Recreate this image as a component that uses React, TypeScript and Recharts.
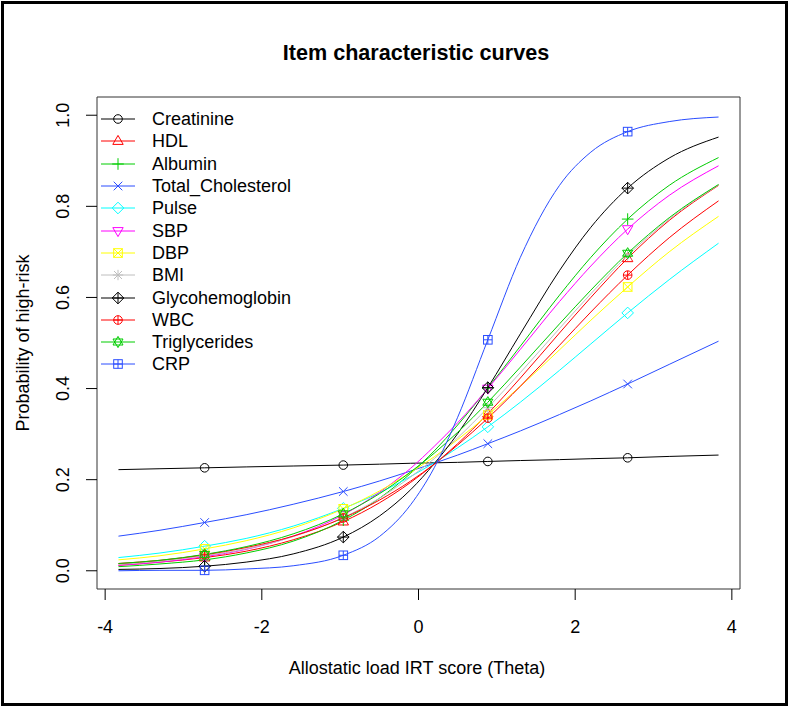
import React from "react";
import { LineChart, Line, XAxis, YAxis, ReferenceArea, Legend } from "recharts";

// theta grid; markers sit at the four marked thetas
const theta = [-3.83, -3.3, -2.73, -2.2, -1.6, -0.96, -0.5, -0.1, 0.2, 0.5, 0.885, 1.3, 1.8, 2.2, 2.67, 3.2, 3.83];
const markTheta = [-2.73, -0.96, 0.885, 2.67];
const xTicks = [-4, -2, 0, 2, 4];
const yTicks = [0, 0.2, 0.4, 0.6, 0.8, 1.0];

const creatinine = [0.222, 0.224, 0.226, 0.228, 0.23, 0.232, 0.234, 0.236, 0.237, 0.238, 0.24, 0.242, 0.244, 0.246, 0.248, 0.251, 0.254];
const hdl = [0.012, 0.019, 0.029, 0.043, 0.068, 0.108, 0.149, 0.194, 0.234, 0.279, 0.345, 0.423, 0.522, 0.6, 0.686, 0.769, 0.846];
const albumin = [0.009, 0.015, 0.024, 0.039, 0.065, 0.111, 0.159, 0.214, 0.263, 0.32, 0.401, 0.493, 0.605, 0.688, 0.772, 0.846, 0.907];
const totalChol = [0.076, 0.089, 0.106, 0.123, 0.146, 0.174, 0.197, 0.219, 0.236, 0.254, 0.279, 0.307, 0.343, 0.373, 0.41, 0.453, 0.504];
const pulse = [0.029, 0.039, 0.054, 0.071, 0.098, 0.137, 0.171, 0.207, 0.237, 0.27, 0.316, 0.37, 0.44, 0.498, 0.566, 0.639, 0.719];
const sbp = [0.012, 0.019, 0.031, 0.047, 0.076, 0.123, 0.172, 0.225, 0.273, 0.325, 0.4, 0.486, 0.591, 0.669, 0.75, 0.824, 0.889];
const dbp = [0.024, 0.033, 0.048, 0.066, 0.094, 0.136, 0.175, 0.216, 0.25, 0.288, 0.342, 0.405, 0.485, 0.55, 0.623, 0.7, 0.778];
const bmi = [0.014, 0.021, 0.033, 0.048, 0.075, 0.117, 0.159, 0.206, 0.246, 0.292, 0.358, 0.435, 0.532, 0.608, 0.692, 0.772, 0.847];
const glyco = [0.003, 0.005, 0.01, 0.019, 0.037, 0.074, 0.12, 0.178, 0.235, 0.301, 0.402, 0.52, 0.659, 0.754, 0.84, 0.906, 0.952];
const wbc = [0.016, 0.023, 0.035, 0.051, 0.076, 0.116, 0.155, 0.197, 0.234, 0.276, 0.335, 0.405, 0.495, 0.568, 0.649, 0.731, 0.812];
const trig = [0.016, 0.023, 0.036, 0.053, 0.081, 0.125, 0.169, 0.217, 0.258, 0.304, 0.37, 0.447, 0.542, 0.616, 0.697, 0.775, 0.848];
const crp = [0.0, 0.001, 0.001, 0.004, 0.011, 0.034, 0.075, 0.145, 0.226, 0.337, 0.507, 0.688, 0.846, 0.919, 0.964, 0.986, 0.996];

const BLACK = "#000000";
const RED = "#ff0000";
const GREEN = "#00cd00";
const BLUE = "#2a4dff";

const items = [
  { key: "creatinine", name: "Creatinine", values: creatinine, color: BLACK, pch: 1 },
  { key: "hdl", name: "HDL", values: hdl, color: RED, pch: 2 },
  { key: "albumin", name: "Albumin", values: albumin, color: GREEN, pch: 3 },
  { key: "totalChol", name: "Total_Cholesterol", values: totalChol, color: BLUE, pch: 4 },
  { key: "pulse", name: "Pulse", values: pulse, color: "#00ffff", pch: 5 },
  { key: "sbp", name: "SBP", values: sbp, color: "#ff00ff", pch: 6 },
  { key: "dbp", name: "DBP", values: dbp, color: "#ffff00", pch: 7 },
  { key: "bmi", name: "BMI", values: bmi, color: "#bebebe", pch: 8 },
  { key: "glyco", name: "Glycohemoglobin", values: glyco, color: BLACK, pch: 9 },
  { key: "wbc", name: "WBC", values: wbc, color: RED, pch: 10 },
  { key: "trig", name: "Triglycerides", values: trig, color: GREEN, pch: 11 },
  { key: "crp", name: "CRP", values: crp, color: BLUE, pch: 12 },
];

const data = theta.map((t, i) => {
  const row: any = { theta: t };
  items.forEach((it) => (row[it.key] = it.values[i]));
  return row;
});

const FONT = '"Liberation Sans", Arial, sans-serif';

// R base plotting symbols (pch 1..12)
const Marker = ({ pch, cx, cy, color }: any) => {
  const r = 4.3;
  const s = { fill: "none", stroke: color, strokeWidth: 1 };
  const plus = (d: number) => (
    <>
      <line x1={cx - d} y1={cy} x2={cx + d} y2={cy} {...s} />
      <line x1={cx} y1={cy - d} x2={cx} y2={cy + d} {...s} />
    </>
  );
  const cross = (d: number) => (
    <>
      <line x1={cx - d} y1={cy - d} x2={cx + d} y2={cy + d} {...s} />
      <line x1={cx - d} y1={cy + d} x2={cx + d} y2={cy - d} {...s} />
    </>
  );
  const up = `${cx},${cy - 5.6} ${cx - 5.2},${cy + 3.4} ${cx + 5.2},${cy + 3.4}`;
  const down = `${cx},${cy + 5.6} ${cx - 5.2},${cy - 3.4} ${cx + 5.2},${cy - 3.4}`;
  const diamond = `${cx},${cy - 5.8} ${cx + 5.8},${cy} ${cx},${cy + 5.8} ${cx - 5.8},${cy}`;
  switch (pch) {
    case 1:
      return <circle cx={cx} cy={cy} r={r} {...s} />;
    case 2:
      return <polygon points={up} {...s} />;
    case 3:
      return <g>{plus(5.8)}</g>;
    case 4:
      return <g>{cross(4.3)}</g>;
    case 5:
      return <polygon points={diamond} {...s} />;
    case 6:
      return <polygon points={down} {...s} />;
    case 7:
      return (
        <g>
          <rect x={cx - r} y={cy - r} width={2 * r} height={2 * r} {...s} />
          {cross(r)}
        </g>
      );
    case 8:
      return (
        <g>
          {plus(5.2)}
          {cross(4)}
        </g>
      );
    case 9:
      return (
        <g>
          <polygon points={diamond} {...s} />
          {plus(5.8)}
        </g>
      );
    case 10:
      return (
        <g>
          <circle cx={cx} cy={cy} r={r} {...s} />
          {plus(r)}
        </g>
      );
    case 11:
      return (
        <g>
          <polygon points={`${cx},${cy - 5.6} ${cx - 5},${cy + 3} ${cx + 5},${cy + 3}`} {...s} />
          <polygon points={`${cx},${cy + 5.6} ${cx - 5},${cy - 3} ${cx + 5},${cy - 3}`} {...s} />
        </g>
      );
    default:
      return (
        <g>
          <rect x={cx - r} y={cy - r} width={2 * r} height={2 * r} {...s} />
          {plus(r)}
        </g>
      );
  }
};

const LegendBox = () => (
  <div style={{ fontFamily: FONT, fontSize: 18, color: "#000" }}>
    {items.map((it) => (
      <div key={it.key} style={{ display: "flex", alignItems: "center", height: 22.3 }}>
        <svg width={55} height={22} style={{ display: "block" }}>
          <line x1={4} y1={11} x2={38} y2={11} stroke={it.color} strokeWidth={1} />
          <Marker pch={it.pch} cx={21} cy={11} color={it.color} />
        </svg>
        <span style={{ lineHeight: "22px" }}>{it.name}</span>
      </div>
    ))}
  </div>
);

const XTick = ({ x, y, payload }: any) => (
  <text x={x} y={y + 25} textAnchor="middle" dominantBaseline="central" fontFamily={FONT} fontSize={18} fill="#000">
    {payload.value}
  </text>
);

const YTick = ({ x, y, payload }: any) => (
  <text
    x={x - 21}
    y={y}
    transform={`rotate(-90, ${x - 21}, ${y})`}
    textAnchor="middle"
    dominantBaseline="central"
    fontFamily={FONT}
    fontSize={18}
    fill="#000"
  >
    {Number(payload.value).toFixed(1)}
  </text>
);

const XTitle = () => (
  <text x={417} y={668} textAnchor="middle" dominantBaseline="central" fontFamily={FONT} fontSize={18} fill="#000">
    Allostatic load IRT score (Theta)
  </text>
);

const YTitle = () => (
  <text
    x={23}
    y={343}
    transform="rotate(-90, 23, 343)"
    textAnchor="middle"
    dominantBaseline="central"
    fontFamily={FONT}
    fontSize={18}
    fill="#000"
  >
    Probability of high-risk
  </text>
);

export default function App() {
  return (
    <div style={{ position: "absolute", left: 0, top: 0, width: 790, height: 709, background: "#fff" }}>
      <div
        style={{
          position: "absolute",
          left: 1,
          top: 1,
          width: 787,
          height: 705,
          border: "3px solid #000",
          boxSizing: "border-box",
        }}
      />
      <div
        style={{
          position: "absolute",
          left: 0,
          top: 40,
          width: 832,
          textAlign: "center",
          fontFamily: FONT,
          fontWeight: "bold",
          fontSize: 21.6,
          lineHeight: "26px",
          color: "#000",
        }}
      >
        Item characteristic curves
      </div>
      <div style={{ position: "absolute", left: 0, top: 0 }}>
        <LineChart width={790} height={709} data={data} margin={{ top: 97, right: 50, bottom: 0, left: 0 }}>
          <XAxis
            dataKey="theta"
            type="number"
            domain={[-4.104, 4.104]}
            ticks={xTicks}
            allowDataOverflow
            axisLine={false}
            tickLine={{ stroke: "#000" }}
            tickSize={11}
            height={120}
            tick={<XTick />}
            label={<XTitle />}
          />
          <YAxis
            type="number"
            domain={[-0.04, 1.04]}
            ticks={yTicks}
            allowDataOverflow
            axisLine={false}
            tickLine={{ stroke: "#000" }}
            tickSize={11}
            width={97}
            tick={<YTick />}
            label={<YTitle />}
          />
          <ReferenceArea x1={-4.104} x2={4.104} y1={-0.04} y2={1.04} fill="none" stroke="#333" strokeWidth={1} />
          {items.map((it) => (
            <Line
              key={it.key}
              dataKey={it.key}
              name={it.name}
              type="monotone"
              stroke={it.color}
              strokeWidth={1}
              isAnimationActive={false}
              activeDot={false}
              dot={(p: any) =>
                markTheta.includes(p.payload.theta) ? (
                  <g key={`${it.key}-${p.index}`}>
                    <Marker pch={it.pch} cx={p.cx} cy={p.cy} color={it.color} />
                  </g>
                ) : (
                  <g key={`${it.key}-${p.index}`} />
                )
              }
            />
          ))}
          <Legend
            layout="horizontal"
            verticalAlign="middle"
            align="center"
            content={<LegendBox />}
            wrapperStyle={{ left: 97, top: 108, width: 260, height: 270 }}
          />
        </LineChart>
      </div>
    </div>
  );
}
